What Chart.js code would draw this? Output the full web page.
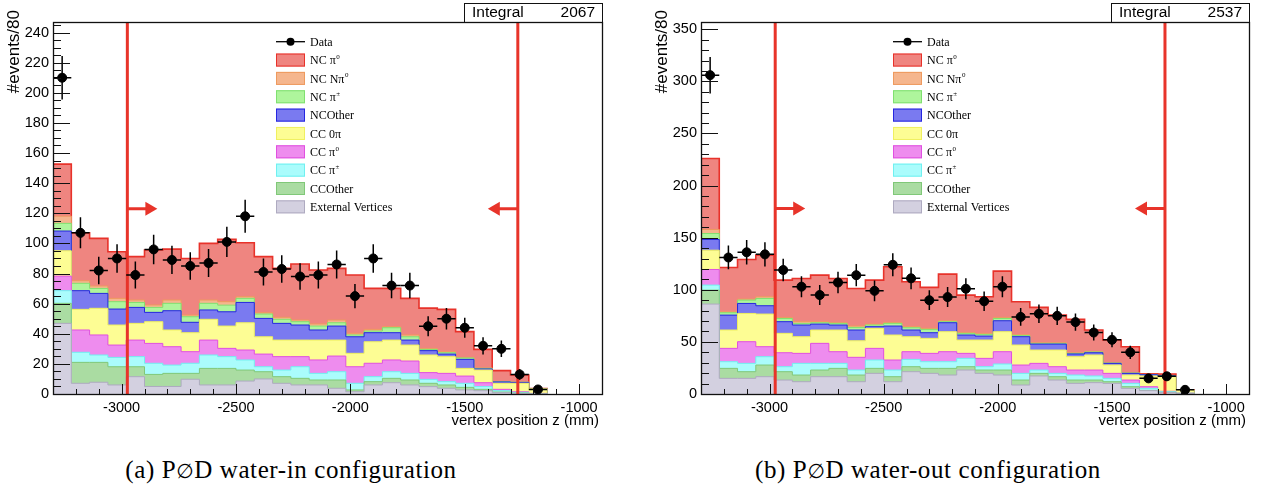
<!DOCTYPE html>
<html>
<head>
<meta charset="utf-8">
<script src="https://cdn.jsdelivr.net/npm/chart.js@4.4.1/dist/chart.umd.min.js"></script>
<style>
  body { margin: 0; background: #fff; width: 1265px; height: 497px; position: relative; overflow: hidden; }
  canvas { position: absolute; top: 0; }
  #chartIn { left: 0; }
  #chartOut { left: 632px; }
  .caption { position: absolute; top: 456px; font-family: "Liberation Serif", serif; font-size: 25px; letter-spacing: 0.6px; color: #000; white-space: nowrap; transform: translateX(-50%); }
  .caption .empty { font-family: "DejaVu Sans", sans-serif; font-size: 0.8em; }
</style>
</head>
<body>
<canvas id="chartIn" width="632" height="440"></canvas>
<canvas id="chartOut" width="633" height="440"></canvas>
<div class="caption" style="left:291px">(a) P<span class="empty">∅</span>D water-in configuration</div>
<div class="caption" style="left:928px">(b) P<span class="empty">∅</span>D water-out configuration</div>
<script>
// Binning en z du vertex (mm), 80 mm par bin, commune aux deux panneaux
const binEdges = [-3300, -3220, -3140, -3060, -2980, -2900, -2820, -2740, -2660, -2580,
                  -2500, -2420, -2340, -2260, -2180, -2100, -2020, -1940, -1860, -1780,
                  -1700, -1620, -1540, -1460, -1380, -1300, -1220, -1140];
const xTickValues = [-3000, -2500, -2000, -1500, -1000];
const cutValues = [-2975, -1268];

// Catégories, du haut de la pile vers le bas (ordre de la légende)
const legendLabels = ['NC π', 'NC Nπ', 'NC π', 'NCOther', 'CC 0π', 'CC π', 'CC π', 'CCOther', 'External Vertices'];
const legendSup = ['0', '0', '±', '', '', '0', '±', '', ''];

// ---- (a) water-in ----
const inData = [210, 107, 82, 90, 79, 96, 89, 85, 87, 101, 118, 81, 83, 78, 79, 86, 65, 90, 72, 72, 45, 50, 44, 32, 30, 13, 3];
const inErr = [14.5, 10.3, 9.1, 9.5, 8.9, 9.8, 9.4, 9.2, 9.3, 10, 10.9, 9, 9.1, 8.8, 8.9, 9.3, 8.1, 9.5, 8.5, 8.5, 6.7, 7.1, 6.6, 5.7, 5.5, 3.6, 1.7];
// hauteur du haut de chaque couche de la pile
const inNCpi0 = [152.6, 107, 103.3, 94.5, 91.2, 95.6, 96.2, 90, 100, 102.7, 100.4, 91.2, 83.4, 86.3, 82.3, 83.4, 79, 70.1, 70.1, 63.5, 57, 56.2, 41.4, 29.6, 15.5, 12.6, 3.6];
const inNCNpi0 = [118.1, 75.2, 71.7, 63.5, 62.4, 59.1, 62.4, 52.4, 62.4, 61.3, 64.6, 54, 50.9, 49.1, 46.5, 49.1, 40.3, 42.9, 44.7, 39.2, 30.3, 28.1, 24.3, 17.3, 8.4, 7.9, 3.5];
const inNCpipm = [113.3, 73.5, 70.1, 61.3, 60.8, 57.5, 60.2, 51.3, 60.2, 59, 63.5, 53.1, 49.6, 48, 45.1, 47.3, 39.2, 41.8, 44, 38, 29.6, 27.4, 23.9, 17, 8.2, 7.8, 3.5];
const inNCOther = [108.2, 68.6, 66.8, 56.4, 57.5, 54.2, 55.3, 47.6, 55.8, 54.6, 60.8, 50.2, 46.9, 45.8, 42.5, 45.1, 38, 40.7, 40.7, 35.8, 28.8, 26.5, 23, 16.6, 8, 7.7, 3.5];
const inCC0pi = [95.1, 56.2, 56.9, 45.8, 46.9, 48, 42.5, 40.7, 49.6, 45.1, 47.3, 38, 35.8, 35.8, 35.8, 35.8, 27, 34.7, 35.8, 32.5, 25.9, 24.8, 17, 15.9, 7.1, 7.1, 3.5];
const inCCpi0 = [78.3, 42.5, 39.2, 32.5, 35.8, 33.6, 31.4, 28.1, 35.8, 30.3, 29.2, 26.5, 24.8, 24.8, 22.6, 25.2, 18.1, 20.4, 22.6, 21.9, 14.2, 13.7, 11.9, 7.5, 3.1, 1.5, 0.4];
const inCCpipm = [68.6, 27.7, 25.9, 24.3, 24.8, 20.4, 19.2, 20.4, 25.9, 24.8, 22.6, 18.1, 15.9, 18.1, 13.7, 14.8, 7.1, 11.5, 14.8, 13.7, 9.7, 8.2, 7.1, 4.9, 2.2, 1.1, 0.3];
const inCCOther = [60.2, 21, 21, 18.1, 18.1, 13, 13.7, 13.7, 17, 17, 15.9, 14.8, 11.5, 10.4, 9.3, 9.3, 2.7, 8.2, 10.4, 9.3, 7.1, 6, 4.4, 3.1, 1.3, 0.6, 0.2];
const inExtVtx = [46.9, 7.1, 7.8, 6, 11.5, 5, 5, 9.8, 6, 6, 8.6, 10, 7.1, 6, 6, 3.8, 1.5, 6, 7.5, 6, 4.9, 3.8, 2.7, 2.2, 0.9, 0.4, 0.2];
const inYTicks = [0, 20, 40, 60, 80, 100, 120, 140, 160, 180, 200, 220, 240];
const inYMax = 247;
const inArrowY = 123;
const inIntegral = 2067;

// ---- (b) water-out ----
const outData = [306, 131, 136, 134, 119, 103, 95, 107, 114, 99, 124, 111, 90, 93, 101, 89, 103, 74, 77, 75, 69, 59, 52, 40, 15, 17, 4];
const outErr = [17.5, 11.4, 11.7, 11.6, 10.9, 10.1, 9.7, 10.3, 10.7, 9.9, 11.1, 10.5, 9.5, 9.6, 10, 9.4, 10.1, 8.6, 8.8, 8.7, 8.3, 7.7, 7.2, 6.3, 3.9, 4.1, 2];
const outNCpi0 = [226, 121.4, 129.1, 133.3, 109.3, 110.9, 114.1, 110.9, 101.3, 109.3, 122.1, 107.7, 102.3, 115, 94.9, 93.3, 117.9, 88.5, 83.1, 75.7, 71.6, 61.4, 51.8, 45.4, 19.5, 19.2, 3.9];
const outNCNpi0 = [157.9, 78.9, 91.1, 93.3, 73.5, 69.4, 69.4, 68.4, 65.2, 67.1, 68.7, 64.6, 63, 70.3, 59.1, 58.2, 73.5, 56.9, 49.2, 49.2, 39.6, 40.6, 30, 20.5, 18.9, 17.7, 3.8];
const outNCpipm = [154, 78, 90.1, 91.7, 72.5, 67.8, 68.4, 67.8, 63.9, 66.2, 67.8, 63.6, 62, 69.4, 58.2, 57.2, 72.5, 56.2, 48.6, 48.6, 39, 40.3, 29.7, 20.1, 18.7, 17.5, 3.8];
const outNCOther = [148.3, 75.7, 86.9, 84.7, 69.4, 66.2, 67.1, 66.2, 61.4, 64.6, 65.2, 61.4, 58.8, 68.4, 56.6, 55.6, 70.3, 55, 47.9, 47.9, 38.4, 39.6, 29.4, 19.8, 18.5, 17.3, 3.8];
const outCC0pi = [138, 61.4, 77.3, 76.7, 58.2, 55, 61.4, 61.4, 51.1, 63, 56.6, 55, 53.4, 59.8, 51.8, 51.8, 59.8, 47, 42.2, 42.2, 35.8, 37.4, 27.8, 18.2, 17.3, 16.6, 3.8];
const outCCpi0 = [119.5, 43.8, 50.2, 45.4, 39.6, 39, 48.6, 40.6, 35.2, 43.8, 32.6, 40.6, 39, 40.6, 39, 34.2, 40.6, 27.8, 29.4, 26.2, 23, 23, 19.8, 13.4, 7, 2.6, 0.8];
const outCCpipm = [104.5, 31, 29.4, 35.8, 26.2, 29.4, 29.4, 29.4, 23, 32.6, 23, 33.2, 31, 31, 34.2, 26.2, 28.8, 19.8, 23, 19.8, 18.2, 17.3, 15, 10.2, 5.4, 2.2, 0.7];
const outCCOther = [99.7, 24.6, 21.4, 27.8, 21.4, 18.2, 23, 24.6, 18.2, 24.6, 16.6, 26.2, 24.6, 24.6, 26.2, 23, 23, 13.4, 19.8, 16.6, 13.4, 13.4, 11.8, 7, 3.5, 1.6, 0.6];
const outExtVtx = [86.3, 15, 15, 16.6, 13.4, 11.8, 16.6, 16.6, 11.8, 19.8, 11.8, 21.4, 19.8, 18.2, 23, 19.8, 18.2, 8.6, 17.3, 13.4, 10.2, 10.9, 10.2, 5.4, 3.2, 1.3, 0.5];
const outYTicks = [0, 50, 100, 150, 200, 250, 300, 350];
const outYMax = 357;
const outArrowY = 178;
const outIntegral = 2537;

// Couleurs ROOT (remplissage pastel + contour plus foncé)
const fillColors = ['#ef8580', '#f5b68e', '#aef59c', '#7a7af0', '#fdfd94', '#ee8cee', '#aafcfc', '#aadca2', '#d3d0e0'];
const lineColors = ['#e8322a', '#ee9a5e', '#80e070', '#2626e0', '#f0f060', '#e050e0', '#70f0f0', '#80c878', '#aeaac0'];
const cutColor = '#e8342a';
const axisFont = '"Liberation Sans", Arial, sans-serif';

// Contour en escalier d'un histogramme : un point par bord gauche + retour à zéro
function histPoints(values) {
    const pts = values.map((v, i) => ({ x: binEdges[i], y: v }));
    pts.push({ x: binEdges[values.length], y: 0 });
    return pts;
}

// Flèche horizontale partant de la ligne de coupure
function drawArrow(ctx, x0, y0, dir) {
    const len = 30, head = 12, half = 7;
    ctx.beginPath();
    ctx.moveTo(x0, y0);
    ctx.lineTo(x0 + dir * (len - head + 1), y0);
    ctx.stroke();
    ctx.beginPath();
    ctx.moveTo(x0 + dir * len, y0);
    ctx.lineTo(x0 + dir * (len - head), y0 - half);
    ctx.lineTo(x0 + dir * (len - head), y0 + half);
    ctx.closePath();
    ctx.fill();
}

// Plugin : barres d'erreur, flèches, cadre, graduations, titres, légende, boîte "Integral"
const rootStyle = {
    id: 'rootStyle',
    afterDatasetsDraw(chart, args, opts) {
        const ctx = chart.ctx, xs = chart.scales.x, ys = chart.scales.y;
        ctx.save();
        ctx.strokeStyle = '#000';
        ctx.lineWidth = 1.5;
        chart.data.datasets.forEach(ds => {
            if (!ds.errors) return;
            ds.data.forEach((p, i) => {
                const px = xs.getPixelForValue(p.x), py = ys.getPixelForValue(p.y);
                ctx.beginPath();
                ctx.moveTo(xs.getPixelForValue(binEdges[i]), py);
                ctx.lineTo(xs.getPixelForValue(binEdges[i + 1]), py);
                ctx.moveTo(px, ys.getPixelForValue(p.y - ds.errors[i]));
                ctx.lineTo(px, ys.getPixelForValue(p.y + ds.errors[i]));
                ctx.stroke();
            });
        });
        // flèches de sélection
        ctx.strokeStyle = cutColor;
        ctx.fillStyle = cutColor;
        ctx.lineWidth = 3;
        const ay = ys.getPixelForValue(opts.arrowY);
        drawArrow(ctx, xs.getPixelForValue(cutValues[0]), ay, 1);
        drawArrow(ctx, xs.getPixelForValue(cutValues[1]), ay, -1);
        ctx.restore();
    },
    afterDraw(chart, args, opts) {
        const ctx = chart.ctx, xs = chart.scales.x, ys = chart.scales.y;
        const a = chart.chartArea;
        ctx.save();
        ctx.strokeStyle = '#111';
        ctx.fillStyle = '#000';
        ctx.lineWidth = 1;

        // graduations (vers l'intérieur, style ROOT)
        ctx.beginPath();
        for (let v = 0; v <= opts.yMax; v += opts.yMinor) {
            const py = Math.round(ys.getPixelForValue(v)) + 0.5;
            const major = opts.yTicks.includes(v);
            ctx.moveTo(a.left, py);
            ctx.lineTo(a.left + (major ? 17 : 8), py);
        }
        for (let v = -3300; v <= -900; v += 100) {
            const px = Math.round(xs.getPixelForValue(v)) + 0.5;
            const major = xTickValues.includes(v);
            ctx.moveTo(px, a.bottom);
            ctx.lineTo(px, a.bottom - (major ? 10 : 5));
        }
        ctx.stroke();

        // cadre
        ctx.lineWidth = 1.3;
        ctx.strokeRect(a.left + 0.5, a.top + 0.5, a.right - a.left, a.bottom - a.top);

        // boîte "Integral"
        const bw = 138;
        ctx.lineWidth = 1;
        ctx.strokeRect(a.right - bw + 0.5, 3.5, bw, a.top - 3);
        ctx.font = '15.5px ' + axisFont;
        ctx.textBaseline = 'middle';
        ctx.textAlign = 'left';
        ctx.fillText('Integral', a.right - bw + 8, 13);
        ctx.textAlign = 'right';
        ctx.fillText(String(opts.integral), a.right - 7, 13);

        // titres des axes
        ctx.font = '15px ' + axisFont;
        ctx.textAlign = 'right';
        ctx.fillText('vertex position z (mm)', a.right - 3, a.bottom + 27);
        ctx.save();
        ctx.font = '17px ' + axisFont;
        ctx.translate(a.left - 39, 10);
        ctx.rotate(-Math.PI / 2);
        ctx.fillText('#events/80', 0, 0);
        ctx.restore();

        // légende
        const bx = a.left + opts.legendLeft, boxW = 29, boxH = 13, y0 = 41.7, dy = 18.35;
        ctx.font = '12px "Liberation Serif", "Times New Roman", serif';
        ctx.textAlign = 'left';
        ctx.lineWidth = 1.3;
        ctx.strokeStyle = '#000';
        ctx.beginPath();
        ctx.moveTo(bx, y0);
        ctx.lineTo(bx + boxW, y0);
        ctx.stroke();
        ctx.beginPath();
        ctx.arc(bx + boxW / 2, y0, 4, 0, Math.PI * 2);
        ctx.fill();
        ctx.fillText('Data', bx + boxW + 5, y0 + 1);
        legendLabels.forEach((lab, k) => {
            const cy = y0 + dy * (k + 1);
            ctx.fillStyle = fillColors[k];
            ctx.fillRect(bx, cy - boxH / 2, boxW, boxH);
            ctx.strokeStyle = lineColors[k];
            ctx.lineWidth = 1;
            ctx.strokeRect(bx + 0.5, cy - boxH / 2 + 0.5, boxW - 1, boxH - 1);
            ctx.fillStyle = '#000';
            ctx.font = '12px "Liberation Serif", "Times New Roman", serif';
            ctx.fillText(lab, bx + boxW + 5, cy + 1);
            if (legendSup[k]) {
                const w = ctx.measureText(lab).width;
                ctx.font = '7px "Liberation Serif", "Times New Roman", serif';
                ctx.fillText(legendSup[k], bx + boxW + 5 + w + 0.5, cy - 3);
            }
        });
        ctx.restore();
    }
};

function buildChart(canvasId, panel) {
    const centers = panel.data.map((_, i) => (binEdges[i] + binEdges[i + 1]) / 2);

    // 'before' : le segment horizontal suit la valeur du point précédent (bin)
    const stackSets = panel.stack.map((vals, k) => ({
        type: 'line',
        label: legendLabels[k],
        data: histPoints(vals),
        stepped: 'before',
        fill: 'origin',
        backgroundColor: fillColors[k],
        borderColor: lineColors[k],
        borderWidth: k === 0 ? 1.6 : 1,
        pointRadius: 0,
        order: 20 - k
    }));

    const cutSets = cutValues.map(c => ({
        type: 'line',
        label: 'cut',
        data: [{ x: c, y: 0 }, { x: c, y: panel.yMax }],
        borderColor: cutColor,
        borderWidth: 3,
        pointRadius: 0,
        fill: false,
        order: 2
    }));

    const dataSet = {
        type: 'scatter',
        label: 'Data',
        data: panel.data.map((v, i) => ({ x: centers[i], y: v })),
        errors: panel.err,
        backgroundColor: '#000',
        borderColor: '#000',
        pointRadius: 4.5,
        pointHoverRadius: 4.5,
        order: 0
    };

    return new Chart(document.getElementById(canvasId), {
        type: 'line',
        data: { datasets: [...stackSets, ...cutSets, dataSet] },
        options: {
            responsive: false,
            animation: false,
            devicePixelRatio: 1,
            events: [],
            layout: { padding: { left: 0, top: 22, right: panel.padRight, bottom: 0 } },
            scales: {
                x: {
                    type: 'linear',
                    min: -3300,
                    max: -900,
                    grid: { display: false, drawTicks: false },
                    border: { display: false },
                    afterBuildTicks: s => { s.ticks = xTickValues.map(v => ({ value: v })); },
                    afterFit: s => { s.height = 46; },
                    ticks: {
                        color: '#000',
                        padding: 5,
                        maxRotation: 0,
                        font: { family: axisFont, size: 14.5 },
                        callback: v => String(v)
                    }
                },
                y: {
                    type: 'linear',
                    min: 0,
                    max: panel.yMax,
                    grid: { display: false, drawTicks: false },
                    border: { display: false },
                    afterBuildTicks: s => { s.ticks = panel.yTicks.map(v => ({ value: v })); },
                    afterFit: s => { s.width = panel.axisWidth; },
                    ticks: {
                        color: '#000',
                        padding: 4,
                        font: { family: axisFont, size: 14.5 },
                        callback: v => String(v)
                    }
                }
            },
            plugins: {
                legend: { display: false },
                tooltip: { enabled: false },
                rootStyle: {
                    yTicks: panel.yTicks,
                    yMax: panel.yMax,
                    yMinor: panel.yMinor,
                    arrowY: panel.arrowY,
                    integral: panel.integral,
                    legendLeft: panel.legendLeft
                }
            }
        },
        plugins: [rootStyle]
    });
}

document.addEventListener('DOMContentLoaded', () => {
    buildChart('chartIn', {
        data: inData, err: inErr,
        stack: [inNCpi0, inNCNpi0, inNCpipm, inNCOther, inCC0pi, inCCpi0, inCCpipm, inCCOther, inExtVtx],
        yTicks: inYTicks, yMax: inYMax, yMinor: 5, arrowY: inArrowY, integral: inIntegral,
        axisWidth: 53, padRight: 30, legendLeft: 223
    });
    buildChart('chartOut', {
        data: outData, err: outErr,
        stack: [outNCpi0, outNCNpi0, outNCpipm, outNCOther, outCC0pi, outCCpi0, outCCpipm, outCCOther, outExtVtx],
        yTicks: outYTicks, yMax: outYMax, yMinor: 10, arrowY: outArrowY, integral: outIntegral,
        axisWidth: 69, padRight: 16, legendLeft: 192
    });
});
</script>
</body>
</html>
